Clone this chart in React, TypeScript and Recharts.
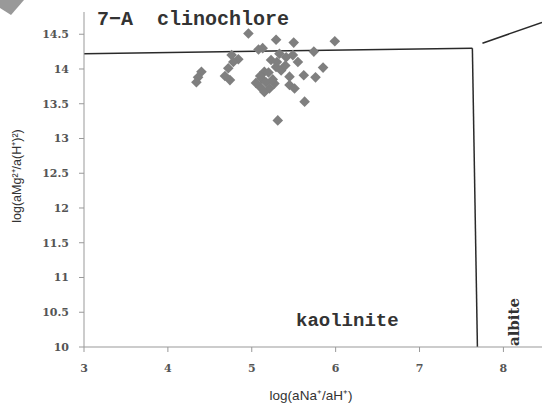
import { ReferenceLine, Scatter, ScatterChart, XAxis, YAxis } from 'recharts';

// log(aNa+/aH+) values of the samples
const naRatio = [
  4.96, 5.29, 5.5, 5.99, 5.08, 5.13, 5.74, 4.76, 4.84, 4.78, 5.33, 5.41, 5.49, 5.55, 5.23, 5.29,
  5.35, 5.85, 5.62, 5.76, 5.45, 4.4, 4.36, 4.34, 4.72, 4.68, 4.74, 5.15, 5.12, 5.17, 5.1, 5.21,
  5.15, 5.27, 5.45, 5.51, 5.63, 5.31, 5.2, 5.25, 5.1, 5.3, 5.4, 5.05,
];
// log(aMg2+/a(H+)^2) values of the samples
const mgRatio = [
  14.51, 14.42, 14.38, 14.4, 14.28, 14.3, 14.25, 14.2, 14.14, 14.1, 14.22, 14.17, 14.2, 14.1, 14.13,
  14.03, 13.98, 14.02, 13.91, 13.88, 13.89, 13.96, 13.88, 13.81, 14.01, 13.9, 13.84, 13.96, 13.86,
  13.81, 13.74, 13.72, 13.67, 13.79, 13.77, 13.72, 13.53, 13.26, 13.95, 13.85, 13.9, 14.1, 14.05,
  13.8,
];

// stability field boundaries
const clinochloreKaolinite = [
  { x: 3, y: 14.22 },
  { x: 7.63, y: 14.3 },
];
const kaoliniteAlbite = [
  { x: 7.63, y: 14.3 },
  { x: 7.69, y: 10 },
];
const clinochloreAlbite = [
  { x: 7.75, y: 14.37 },
  { x: 8.46, y: 14.67 },
];

const xTicks = [3, 4, 5, 6, 7, 8];
const yTicks = [10, 10.5, 11, 11.5, 12, 12.5, 13, 13.5, 14, 14.5];

const samples = naRatio.map((x, i) => ({ x, y: mgRatio[i] }));

const tickStyle = { fill: '#555', fontSize: 11, fontFamily: 'DejaVu Serif', fontWeight: 'bold' };

function Diamond(props: any) {
  const { cx, cy } = props;
  const r = 5.3;
  return (
    <polygon
      points={`${cx},${cy - r} ${cx + r},${cy} ${cx},${cy + r} ${cx - r},${cy}`}
      fill="#7f7f7f"
    />
  );
}

export default function App() {
  return (
    <div style={{ position: 'absolute', left: 0, top: 0, width: 542, height: 403, background: '#fff' }}>
      <ScatterChart width={542} height={403} margin={{ top: 12, right: 0, bottom: 26, left: 24 }}>
        <XAxis
          type="number"
          dataKey="x"
          domain={[3, 8.46]}
          ticks={xTicks}
          allowDataOverflow
          stroke="#999"
          tickSize={5}
          tickMargin={12}
          height={30}
          tick={tickStyle}
        />
        <YAxis
          type="number"
          dataKey="y"
          domain={[10, 14.82]}
          ticks={yTicks}
          allowDataOverflow
          stroke="#999"
          tickSize={5}
          tickMargin={10}
          width={60}
          tick={tickStyle}
        />
        <ReferenceLine segment={clinochloreKaolinite} stroke="#2a2a2a" strokeWidth={1.5} ifOverflow="visible" />
        <ReferenceLine segment={kaoliniteAlbite} stroke="#2a2a2a" strokeWidth={1.5} ifOverflow="visible" />
        <ReferenceLine segment={clinochloreAlbite} stroke="#2a2a2a" strokeWidth={1.5} ifOverflow="visible" />
        <Scatter data={samples} shape={<Diamond />} isAnimationActive={false} />
      </ScatterChart>
      <svg width={542} height={403} style={{ position: 'absolute', left: 0, top: 0, pointerEvents: 'none' }}>
        <polygon points="0,0 24,0 11,15 0,8" fill="#999" />
        <text x={97} y={25} fontFamily="Liberation Mono" fontWeight="bold" fontSize={20} fill="#333" xmlSpace="preserve">
          {'7\u2212A  clinochlore'}
        </text>
        <text x={296} y={326} fontFamily="Liberation Mono" fontWeight="bold" fontSize={19} fill="#333">
          kaolinite
        </text>
        <text
          x={519}
          y={322}
          fontFamily="DejaVu Serif"
          fontWeight="bold"
          fontSize={15}
          fill="#333"
          textAnchor="middle"
          transform="rotate(-90 519 322)"
        >
          albite
        </text>
        <text
          x={21}
          y={176}
          fontFamily="Liberation Sans"
          fontSize={12.5}
          fill="#333"
          textAnchor="middle"
          transform="rotate(-90 21 176)"
        >
          log(aMg²⁺/a(H⁺)²)
        </text>
        <text x={311} y={400} fontFamily="Liberation Sans" fontSize={13.5} fill="#333" textAnchor="middle">
          log(aNa⁺/aH⁺)
        </text>
      </svg>
    </div>
  );
}
